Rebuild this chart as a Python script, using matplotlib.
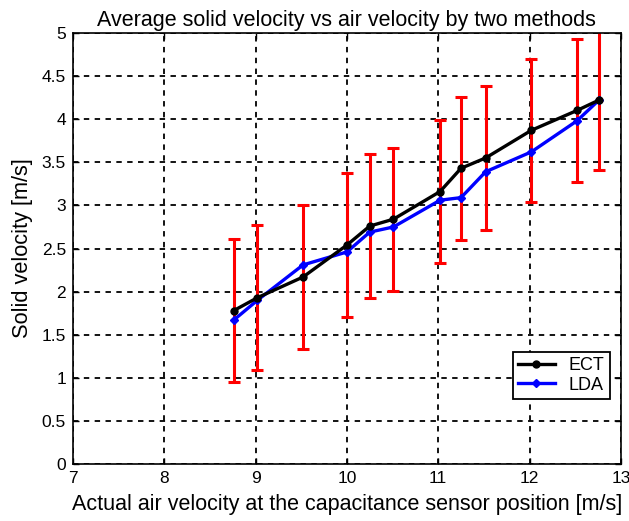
import matplotlib
matplotlib.use("Agg")
import matplotlib.pyplot as plt

plt.rcParams['font.family'] = ['Liberation Sans', 'DejaVu Sans']

# air velocity at the capacitance sensor [m/s]
air_vel = [8.76, 9.02, 9.52, 10.0, 10.25, 10.51, 11.02, 11.25, 11.52, 12.02, 12.52, 12.76]
ect_vel = [1.78, 1.93, 2.17, 2.54, 2.76, 2.84, 3.16, 3.43, 3.55, 3.87, 4.10, 4.22]
lda_vel = [1.67, 1.90, 2.31, 2.46, 2.69, 2.75, 3.06, 3.09, 3.39, 3.62, 3.98, 4.22]
ect_err = [0.83, 0.84, 0.83, 0.83, 0.83, 0.83, 0.83, 0.83, 0.83, 0.83, 0.83, 0.81]

fig = plt.figure(figsize=(6.29, 5.21), dpi=100)
ax = fig.add_axes([0.116, 0.109, 0.871, 0.828])

ax.errorbar(air_vel, ect_vel, yerr=ect_err, fmt='none', ecolor='red',
            elinewidth=2.2, capsize=4, capthick=2.2, zorder=2)
ax.plot(air_vel, ect_vel, color='black', lw=2.4, marker='o', ms=5,
        label='ECT', zorder=4)
ax.plot(air_vel, lda_vel, color='blue', lw=2.4, marker='D', ms=4,
        label='LDA', zorder=3)

ax.set_xlim(7, 13)
ax.set_ylim(0, 5)
ax.set_xticks(range(7, 14))
ax.set_yticks([i * 0.5 for i in range(11)])
ax.set_yticklabels(['0', '0.5', '1', '1.5', '2', '2.5', '3', '3.5', '4', '4.5', '5'])
ax.grid(True, color='black', linestyle=(0, (3, 3)), linewidth=1.3)
ax.tick_params(direction='in', length=4, width=1, labelsize=12.5, pad=5,
               top=True, right=True)
for s in ax.spines.values():
    s.set_linewidth(1.2)

ax.set_title('Average solid velocity vs air velocity by two methods', fontsize=15.5, pad=5)
ax.set_xlabel('Actual air velocity at the capacitance sensor position [m/s]',
              fontsize=15.5, labelpad=6)
ax.set_ylabel('Solid velocity [m/s]', fontsize=15.7, labelpad=6)

leg = ax.legend(loc='lower right', bbox_to_anchor=(0.997, 0.13), fontsize=13,
                fancybox=False, framealpha=1, edgecolor='black',
                handlelength=2.0, borderpad=0.3, labelspacing=0.15)
leg.get_frame().set_linewidth(1.3)

fig.savefig('out.png', dpi=100)
